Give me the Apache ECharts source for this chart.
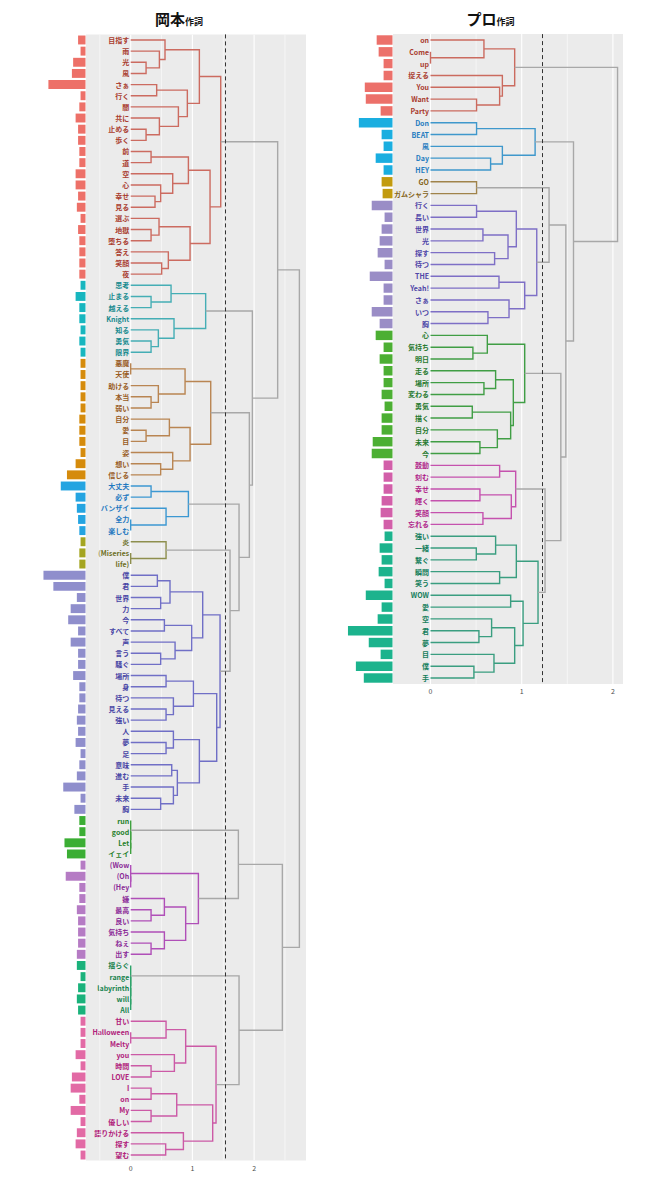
<!DOCTYPE html>
<html>
<head>
<meta charset="utf-8">
<script src="https://cdn.jsdelivr.net/npm/echarts@6/dist/echarts.min.js"></script>
<style>
  html, body { margin: 0; background: #fff; }
  #chart { width: 658px; height: 1200px; }
</style>
</head>
<body>
<div id="chart"></div>
<script>
// ---- 岡本作詞 ----
const okaLeaves = ['目指す','雨','光','風','さぁ','行く','闇','共に','止める','歩く','前','道','空','心','幸せ','見る','選ぶ','地獄','堕ちる','答え','笑顔','夜',
  '思考','止まる','越える','Knight','知る','勇気','限界',
  '悪魔','天使','助ける','本当','弱い','自分','愛','目','姿','想い','信じる',
  '大丈夫','必ず','バンザイ','全力','楽しむ',
  '炎','(Miseries','life)',
  '僕','君','世界','力','今','すべて','声','言う','騒ぐ','場所','身','待つ','見える','強い','人','夢','足','意味','進む','手','未来','胸',
  'run','good','Let','イェイ',
  '(Wow','(Oh','(Hey','嫌','最高','良い','気持ち','ねぇ','出す',
  '揺らぐ','range','labyrinth','will','All',
  '甘い','Halloween','Melty','you','時間','LOVE','I','on','My','優しい','語りかける','探す','望む'];
const okaFreq = [6,4,10,11,30,4,5,8,6,6,5,5,8,8,6,7,4,6,5,5,5,5,
  4,8,5,5,4,5,4,
  4,4,4,4,4,5,5,5,4,8,15,
  20,8,7,6,5,
  4,5,5,
  34,26,7,12,14,6,12,6,6,10,5,5,6,7,6,8,4,5,7,18,4,9,
  5,5,17,15,
  4,16,5,5,7,6,6,6,7,
  7,4,6,7,6,
  4,4,4,8,4,11,12,5,12,4,7,8,4];
// cluster trees: [left, right, height]
const okaClusters = [
  [[['目指す', ['雨', ['光','風',0.249], 0.465], 0.556],
    [['さぁ','行く',0.421], ['闇', ['共に', ['止める','歩く',0.249], 0.465], 0.773], 0.918], 1.113],
   [[['前','道',0.33], ['空', ['心', ['幸せ','見る',0.394], 0.486], 0.681], 0.935],
    [['選ぶ', ['地獄','堕ちる',0.33], 0.459], ['答え', ['笑顔','夜',0.502], 0.61], 0.962], 1.286], 1.459],
  [['思考', ['止まる','越える',0.33], 0.654], ['Knight', ['知る', ['勇気','限界',0.33], 0.448], 0.702], 1.215],
  [[['悪魔','天使',0], ['助ける', ['本当','弱い',0.33], 0.448], 0.881],
   [['自分', ['愛','目',0.249], 0.627], ['姿', ['想い','信じる',0.486], 0.681], 0.962], 1.297],
  [['大丈夫','必ず',0.33], ['バンザイ', ['全力','楽しむ',0], 0.573], 0.935],
  ['炎', ['(Miseries','life)',0], 0.573],
  [[[['僕','君',0.432], ['世界','力',0.486], 0.637], [['今','すべて',0.546], ['声', ['言う','騒ぐ',0.486], 0.719], 0.989], 1.167],
   [[['場所','身',0.573], ['待つ', ['見える','強い',0.573], 0.692], 1.016],
    [['人', ['夢','足',0.573], 0.692], [['意味','進む',0.665], ['手', ['未来','胸',0.486], 0.692], 0.756], 1.113], 1.394], 1.448],
  ['run', ['good', ['Let','イェイ',0], 0], 0],
  [['(Wow', ['(Oh','(Hey',0], 0], [['嫌', ['最高','良い',0.33], 0.546], ['気持ち', ['ねぇ','出す',0.33], 0.546], 0.891], 1.097],
  ['揺らぐ', ['range', ['labyrinth', ['will','All',0], 0], 0], 0],
  [[['甘い', ['Halloween','Melty',0], 0.573], ['you', ['時間','LOVE',0.33], 0.708], 0.891],
   [[['I','on',0.33], ['My','優しい',0.33], 0.746], ['語りかける', ['探す','望む',0.567], 0.854], 1.329], 1.383]
];
const okaTop = [[0, [1, [2, [3, [4, 5, 1.61], 1.756], 1.923], 1.972], 2.382], [[6, 7, 1.745], [8, 9, 1.756], 2.458], 2.734];
const okaCut = 1.54;

// ---- プロ作詞 ----
const proLeaves = ['on','Come','up','捉える','You','Want','Party',
  'Don','BEAT','風','Day','HEY',
  'GO','ガムシャラ',
  '行く','長い','世界','光','探す','待つ','THE','Yeah!','さぁ','いつ','胸',
  '心','気持ち','明日','走る','場所','変わる','勇気','描く','自分','未来','今',
  '鼓動','刻む','幸せ','輝く','笑顔','忘れる',
  '強い','一緒','繋ぐ','瞬間','笑う','WOW','愛','空','君','夢','目','僕','手'];
const proFreq = [16,14,9,9,28,27,12,
  34,11,9,17,9,
  11,10,
  21,8,11,13,15,8,23,9,9,21,13,
  17,9,13,9,9,11,8,11,11,20,21,
  9,9,9,11,12,9,
  8,13,11,14,8,27,11,15,45,24,12,37,29];
const proClusters = [
  [['on', ['Come','up',0], 0.586], ['捉える', ['You', ['Want','Party',0.505], 0.758], 0.788], 0.923],
  [['Don','BEAT',0.505], ['風', ['Day','HEY',0.659], 0.788], 1.147],
  ['GO','ガムシャラ',0.505],
  [[['行く','長い',0.505], [['世界','光',0.575], ['探す','待つ',0.703], 0.85], 0.941],
   [['THE','Yeah!',0.751], ['さぁ', ['いつ','胸',0.63], 0.861], 1.033], 1.165],
  [['心', ['気持ち','明日',0.465], 0.623],
   [['走る', ['場所','変わる',0.586], 0.714], [['勇気','描く',0.458], ['自分', ['未来','今',0.542], 0.733], 0.879], 0.908], 1.033],
  [['鼓動','刻む',0.758], [['幸せ','輝く',0.542], ['笑顔','忘れる',0.575], 0.886], 0.934],
  [[['強い', ['一緒','繋ぐ',0.502], 0.714], ['瞬間','笑う',0.758], 0.941],
   [['WOW','愛',0.879], [['空', ['君','夢',0.531], 0.67], ['目', ['僕','手',0.476], 0.696], 0.923], 1.015], 1.179]
];
const proTop = [0, [1, [[2, 3, 1.3], [4, [5, 6, 1.256], 1.429], 1.484], 1.568], 2.051];
const proCut = 1.216;

const gridMajor = [0, 1, 2];
const gridMinor = [-0.5, 0.5, 1.5, 2.5];

// colours per cluster
const okaBar  = ['#ED7068','#17B6BF','#D58B0C','#24A4E1','#A4A521','#8F8ECC','#3BAE34','#B57BC4','#1AB27B','#E26AA5'];
const okaLine = ['#CC6B60','#45AEB5','#B98552','#3C98D2','#8E8F4E','#706FC6','#3FA13F','#B04FB8','#2DA36A','#CC5AA6'];
const okaText = ['#A93B2E','#168A8E','#995C1F','#1E78C0','#6E7026','#4845A5','#27802A','#8B2C98','#17834E','#B0207A'];
const proBar  = ['#EC706A','#1AAEE0','#C29B0F','#9A8DC6','#4CAF33','#D25FA9','#1CB38D'];
const proLine = ['#CB6B5F','#3F98CC','#A0834A','#7E6FC6','#409E45','#C552AE','#3A9E80'];
const proText = ['#A93B2E','#1F7CC0','#85651A','#5046A8','#27792E','#B01F8A','#157E5C'];
const GREY = '#A8A8A8';

// one bracket per merge: [childA height, childA y, merge height, childB y, childB height, cluster]
function buildTree(clusters, top, leaves) {
  const idx = {};
  leaves.forEach((n, i) => idx[n] = i);
  const cluster = new Array(leaves.length).fill(-1);
  const links = [];
  function walk(node, k) {
    if (typeof node === 'string') { cluster[idx[node]] = k; return { y: idx[node], h: 0, c: k }; }
    if (typeof node === 'number') return walk(clusters[node], node);
    const a = walk(node[0], k), b = walk(node[1], k), h = node[2];
    const c = a.c === b.c ? a.c : -1;
    links.push([a.h, a.y, h, b.y, b.h, c]);
    return { y: (a.y + b.y) / 2, h: h, c: c };
  }
  walk(top, -1);
  return { links, cluster, idx };
}

const oka = buildTree(okaClusters, okaTop, okaLeaves);
const pro = buildTree(proClusters, proTop, proLeaves);

const FONT = "'Noto Sans CJK JP', 'Noto Sans', sans-serif";

// panel geometry (px)
const P = [
  { bar: [40, 86], tree: [86, 306], top: 34.4, bottom: 1160.6, zero: 130.7, unit: 61.7, barMax: 36.8, title: 174 },
  { bar: [345, 393], tree: [393, 623], top: 34.1, bottom: 683.9, zero: 430.5, unit: 91.2, barMax: 48, title: 485.5 }
];

function panel(i, t, leaves, textC) {
  const g = P[i];
  const grids = [
    { left: g.bar[0], width: g.bar[1] - g.bar[0] - 0.5, top: g.top, bottom: 1200 - g.bottom, outerBoundsMode: 'none' },
    { left: g.tree[0], width: g.tree[1] - g.tree[0], top: g.top, bottom: 1200 - g.bottom,
      show: true, backgroundColor: '#EBEBEB', borderWidth: 0, outerBoundsMode: 'none' }
  ];
  const gb = i * 2, gt = i * 2 + 1;
  const xAxes = [
    { gridIndex: gb, type: 'value', inverse: true, min: 0, max: g.barMax, show: false },
    { gridIndex: gt, type: 'value',
      min: (g.tree[0] - g.zero) / g.unit, max: (g.tree[1] - g.zero) / g.unit,
      axisLine: { show: false, onZero: false }, axisTick: { show: false }, splitLine: { show: false },
      axisLabel: { customValues: [0, 1, 2], color: '#4D4D4D', fontSize: 7, margin: 4 } }
  ];
  const yAxes = [
    { gridIndex: gt, type: 'category', data: leaves, inverse: true, position: 'left',
      offset: -(g.zero - g.tree[0]),
      axisLine: { show: false, onZero: false }, axisTick: { show: false }, splitLine: { show: false },
      axisLabel: { interval: 0, margin: 1.5, fontSize: 7, fontWeight: 'bold',
        color: v => textC[t.cluster[t.idx[v]]] } },
    { gridIndex: gt, type: 'value', min: -0.5, max: leaves.length - 0.5, inverse: true, show: false,
      axisLine: { onZero: false } },
    { gridIndex: gb, type: 'category', data: leaves, inverse: true, show: false }
  ];
  return { grids, xAxes, yAxes };
}

const pa = panel(0, oka, okaLeaves, okaText);
const pb = panel(1, pro, proLeaves, proText);

function seriesFor(pi, t, freq, barC, lineC, cut) {
  const xb = pi * 2, xt = pi * 2 + 1;
  const yv = pi * 3 + 1, yb = pi * 3 + 2;
  const gridVals = gridMajor.map(v => [v, 1]).concat(gridMinor.map(v => [v, 0]));
  return [
    { type: 'bar', xAxisIndex: xb, yAxisIndex: yb, barWidth: '80%', silent: true,
      data: freq.map((v, i) => ({ value: v, itemStyle: { color: barC[t.cluster[i]] } })) },
    { type: 'custom', xAxisIndex: xt, yAxisIndex: yv, silent: true, z: 1, clip: true,
      data: gridVals,
      renderItem: function (params, api) {
        const cs = params.coordSys;
        const x = api.coord([api.value(0), 0])[0];
        return { type: 'line', shape: { x1: x, y1: cs.y, x2: x, y2: cs.y + cs.height },
          style: { stroke: '#FFFFFF', lineWidth: api.value(1) ? 1.1 : 0.55 } };
      } },
    { type: 'custom', xAxisIndex: xt, yAxisIndex: yv, silent: true, z: 2,
      data: t.links.map(s => ({ value: s.slice(0, 5), itemStyle: { color: s[5] < 0 ? GREY : lineC[s[5]] } })),
      renderItem: function (params, api) {
        const pts = [
          api.coord([api.value(0), api.value(1)]),
          api.coord([api.value(2), api.value(1)]),
          api.coord([api.value(2), api.value(3)]),
          api.coord([api.value(4), api.value(3)])
        ];
        return { type: 'polyline', shape: { points: pts },
          style: { stroke: api.visual('color'), lineWidth: 1.4, fill: 'none' } };
      },
      markLine: { silent: true, symbol: ['none', 'none'], label: { show: false },
        lineStyle: { color: '#333', type: [4, 3], width: 1 },
        data: [{ xAxis: cut }] } }
  ];
}

const chart = echarts.init(document.getElementById('chart'), null, { renderer: 'svg' });
const titleRich = {
  a: { fontSize: 15, fontWeight: 'bold', color: '#111', verticalAlign: 'bottom', fontFamily: FONT },
  b: { fontSize: 9, fontWeight: 'bold', color: '#111', verticalAlign: 'bottom', fontFamily: FONT }
};
chart.setOption({
  animation: false,
  textStyle: { fontFamily: FONT },
  title: [
    { text: '{a|岡本}{b|作詞}', left: P[0].title, top: 6, textAlign: 'center', textStyle: { rich: titleRich } },
    { text: '{a|プロ}{b|作詞}', left: P[1].title, top: 6, textAlign: 'center', textStyle: { rich: titleRich } }
  ],
  grid: pa.grids.concat(pb.grids),
  xAxis: pa.xAxes.concat(pb.xAxes),
  yAxis: pa.yAxes.concat(pb.yAxes),
  series: seriesFor(0, oka, okaFreq, okaBar, okaLine, okaCut)
    .concat(seriesFor(1, pro, proFreq, proBar, proLine, proCut))
});
</script>
</body>
</html>
